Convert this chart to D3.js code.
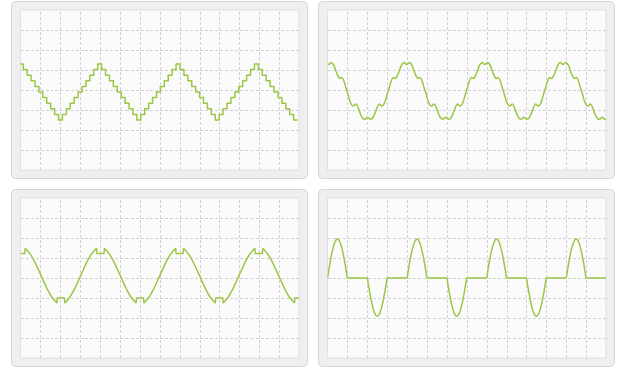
<!DOCTYPE html>
<html>
<head>
<meta charset="utf-8">
<script src="https://cdn.jsdelivr.net/npm/d3@7"></script>
<style>
    body { margin: 0; background: #fff; }
    svg { display: block; }
    .frame { fill: #efefef; stroke: #d6d6d6; }
    .screen { fill: #fbfbfb; stroke: #e0e0e0; }
    .grid line { stroke: #d2d2d2; stroke-dasharray: 3,2; shape-rendering: crispEdges; }
    .grid .domain { display: none; }
    .wave { fill: none; stroke: #9cc646; stroke-width: 1.5; stroke-linejoin: round; }
</style>
</head>
<body>
<svg width="620" height="367"></svg>
<script>
// grid divisions (x in time units, y in volts)
var xTicks = [20, 40, 60, 80, 100, 120, 140, 160, 180, 200, 220, 240, 260];
var yTicks = [-3, -2, -1, 0, 1, 2, 3];

// top left: quantised triangle, one level per sample
var stairStart = -1.2, stairStep = 3.94;
var stairLevels = [
    1.30, 1.02, 0.74, 0.46, 0.18, -0.10, -0.38, -0.66, -0.94, -1.22, -1.50, -1.22, -0.94, -0.66, -0.38, -0.10, 0.18, 0.46, 0.74, 1.02,
    1.30, 1.02, 0.74, 0.46, 0.18, -0.10, -0.38, -0.66, -0.94, -1.22, -1.50, -1.22, -0.94, -0.66, -0.38, -0.10, 0.18, 0.46, 0.74, 1.02,
    1.30, 1.02, 0.74, 0.46, 0.18, -0.10, -0.38, -0.66, -0.94, -1.22, -1.50, -1.22, -0.94, -0.66, -0.38, -0.10, 0.18, 0.46, 0.74, 1.02,
    1.30, 1.02, 0.74, 0.46, 0.18, -0.10, -0.38, -0.66, -0.94, -1.22, -1.50
];

// top right: filtered wave with ripple
var rippleWave = [
    [0, 1.32], [1, 1.28], [3.8, 1.38], [6.5, 1.22], [9, 0.88], [11, 0.65], [12.5, 0.58], [14.5, 0.63], [16.5, 0.45], [18.5, 0.12],
    [20.5, -0.2], [22.5, -0.55], [24, -0.72], [26, -0.8], [28.5, -0.7], [30.5, -0.85], [32.5, -1.12], [34.5, -1.35], [37.5, -1.46], [40.3, -1.36],
    [43.1, -1.46], [46.1, -1.35], [48.1, -1.12], [50.1, -0.85], [52.1, -0.7], [54.6, -0.8], [56.6, -0.72], [58.1, -0.55], [60.1, -0.2], [62.1, 0.12],
    [64.1, 0.45], [66.1, 0.63], [68.1, 0.58], [69.6, 0.65], [71.6, 0.88], [74.1, 1.22], [76.8, 1.38], [79.6, 1.28],
    [82.4, 1.38], [85.1, 1.22], [87.6, 0.88], [89.6, 0.65], [91.1, 0.58], [93.1, 0.63], [95.1, 0.45], [97.1, 0.12], [99.1, -0.2], [101.1, -0.55],
    [102.6, -0.72], [104.6, -0.8], [107.1, -0.7], [109.1, -0.85], [111.1, -1.12], [113.1, -1.35], [116.1, -1.46], [118.9, -1.36], [121.7, -1.46], [124.7, -1.35],
    [126.7, -1.12], [128.7, -0.85], [130.7, -0.7], [133.2, -0.8], [135.2, -0.72], [136.7, -0.55], [138.7, -0.2], [140.7, 0.12], [142.7, 0.45], [144.7, 0.63],
    [146.7, 0.58], [148.2, 0.65], [150.2, 0.88], [152.7, 1.22], [155.4, 1.38], [158.2, 1.28],
    [161, 1.38], [163.7, 1.22], [166.2, 0.88], [168.2, 0.65], [169.7, 0.58], [171.7, 0.63], [173.7, 0.45], [175.7, 0.12], [177.7, -0.2], [179.7, -0.55],
    [181.2, -0.72], [183.2, -0.8], [185.7, -0.7], [187.7, -0.85], [189.7, -1.12], [191.7, -1.35], [194.7, -1.46], [197.5, -1.36], [200.3, -1.46], [203.3, -1.35],
    [205.3, -1.12], [207.3, -0.85], [209.3, -0.7], [211.8, -0.8], [213.8, -0.72], [215.3, -0.55], [217.3, -0.2], [219.3, 0.12], [221.3, 0.45], [223.3, 0.63],
    [225.3, 0.58], [226.8, 0.65], [228.8, 0.88], [231.3, 1.22], [234, 1.38], [236.8, 1.28],
    [239.6, 1.38], [242.3, 1.22], [244.8, 0.88], [246.8, 0.65], [248.3, 0.58], [250.3, 0.63], [252.3, 0.45], [254.3, 0.12], [256.3, -0.2], [258.3, -0.55],
    [259.8, -0.72], [261.8, -0.8], [264.3, -0.7], [266.3, -0.85], [268.3, -1.12], [270.3, -1.35], [273.3, -1.46], [276.1, -1.36], [278.9, -1.46], [280, -1.44]
];

// bottom left: sine with flattened notches at the crests
var notchWave = [
    [0, 1.22], [4.5, 1.22], [4.6, 1.48], [6.8, 1.38], [10.8, 1.12], [14.8, 0.76], [18.8, 0.33], [22.8, -0.11], [26.8, -0.54], [30.8, -0.9], [34.8, -1.15],
    [36.8, -1.24], [36.9, -1.0], [44.3, -1.0], [44.4, -1.24], [46.6, -1.14], [50.6, -0.88], [54.6, -0.52], [58.6, -0.09], [62.6, 0.35], [66.6, 0.78], [70.6, 1.14], [74.6, 1.39],
    [76.6, 1.48], [76.7, 1.22], [84.1, 1.22], [84.2, 1.48], [86.4, 1.38], [90.4, 1.12], [94.4, 0.76], [98.4, 0.33], [102.4, -0.11], [106.4, -0.54], [110.4, -0.9], [114.4, -1.15],
    [116.4, -1.24], [116.5, -1.0], [123.9, -1.0], [124, -1.24], [126.2, -1.14], [130.2, -0.88], [134.2, -0.52], [138.2, -0.09], [142.2, 0.35], [146.2, 0.78], [150.2, 1.14], [154.2, 1.39],
    [156.2, 1.48], [156.3, 1.22], [163.7, 1.22], [163.8, 1.48], [166, 1.38], [170, 1.12], [174, 0.76], [178, 0.33], [182, -0.11], [186, -0.54], [190, -0.9], [194, -1.15],
    [196, -1.24], [196.1, -1.0], [203.5, -1.0], [203.6, -1.24], [205.8, -1.14], [209.8, -0.88], [213.8, -0.52], [217.8, -0.09], [221.8, 0.35], [225.8, 0.78], [229.8, 1.14], [233.8, 1.39],
    [235.8, 1.48], [235.9, 1.22], [243.3, 1.22], [243.4, 1.48], [245.6, 1.38], [249.6, 1.12], [253.6, 0.76], [257.6, 0.33], [261.6, -0.11], [265.6, -0.54], [269.6, -0.9], [273.6, -1.15],
    [275.6, -1.24], [275.7, -1.0], [280, -1.0]
];

// bottom right: alternating half-wave pulses with dead time
var pulseWave = [
    [0, 0], [1, 0.3], [2.5, 0.75], [5, 1.38], [7.5, 1.8], [10, 1.95], [12.5, 1.8], [15, 1.38], [17.5, 0.75], [19, 0.3], [20, 0],
    [40, 0], [41, -0.3], [42.5, -0.73], [45, -1.36], [47.5, -1.77], [50, -1.92], [52.5, -1.77], [55, -1.36], [57.5, -0.73], [59, -0.3], [60, 0],
    [80, 0], [81, 0.3], [82.5, 0.75], [85, 1.38], [87.5, 1.8], [90, 1.95], [92.5, 1.8], [95, 1.38], [97.5, 0.75], [99, 0.3], [100, 0],
    [120, 0], [121, -0.3], [122.5, -0.73], [125, -1.36], [127.5, -1.77], [130, -1.92], [132.5, -1.77], [135, -1.36], [137.5, -0.73], [139, -0.3], [140, 0],
    [160, 0], [161, 0.3], [162.5, 0.75], [165, 1.38], [167.5, 1.8], [170, 1.95], [172.5, 1.8], [175, 1.38], [177.5, 0.75], [179, 0.3], [180, 0],
    [200, 0], [201, -0.3], [202.5, -0.73], [205, -1.36], [207.5, -1.77], [210, -1.92], [212.5, -1.77], [215, -1.36], [217.5, -0.73], [219, -0.3], [220, 0],
    [240, 0], [241, 0.3], [242.5, 0.75], [245, 1.38], [247.5, 1.8], [250, 1.95], [252.5, 1.8], [255, 1.38], [257.5, 0.75], [259, 0.3], [260, 0],
    [280, 0]
];

var svg = d3.select("svg");
var frameW = 296, frameH = 177;
var padL = 9, padT = 8.5;
var plotW = 278.5, plotH = 160;

var x = d3.scaleLinear().domain([0, 280]).range([0, plotW]);
var y = d3.scaleLinear().domain([-4, 4]).range([plotH, 0]);

// stair samples -> points, last sample held until the next edge
var stairPoints = stairLevels.map(function(v, i) { return [stairStart + i * stairStep, v]; });
stairPoints.push([stairStart + stairLevels.length * stairStep, stairLevels[stairLevels.length - 1]]);

var panels = [
    {left: 11.5, top: 1.5, points: stairPoints, curve: d3.curveStepAfter},
    {left: 318.5, top: 1.5, points: rippleWave, curve: d3.curveMonotoneX},
    {left: 11.5, top: 189.5, points: notchWave, curve: d3.curveMonotoneX},
    {left: 318.5, top: 189.5, points: pulseWave, curve: d3.curveMonotoneX}
];

panels.forEach(function(p, i) {
    var g = svg.append("g").attr("transform", "translate(" + p.left + "," + p.top + ")");

    g.append("rect")
        .attr("class", "frame")
        .attr("width", frameW)
        .attr("height", frameH)
        .attr("rx", 4);

    var plot = g.append("g").attr("transform", "translate(" + padL + "," + padT + ")");

    plot.append("rect")
        .attr("class", "screen")
        .attr("width", plotW)
        .attr("height", plotH);

    plot.append("clipPath")
        .attr("id", "clip" + i)
      .append("rect")
        .attr("width", plotW)
        .attr("height", plotH);

    // dashed grid from the axes
    plot.append("g")
        .attr("class", "grid")
        .attr("transform", "translate(0," + plotH + ")")
        .call(d3.axisBottom(x).tickValues(xTicks).tickSize(-plotH).tickFormat(""));

    plot.append("g")
        .attr("class", "grid")
        .call(d3.axisLeft(y).tickValues(yTicks).tickSize(-plotW).tickFormat(""));

    var line = d3.line()
        .x(function(d) { return x(d[0]); })
        .y(function(d) { return y(d[1]); })
        .curve(p.curve);

    plot.append("path")
        .datum(p.points)
        .attr("class", "wave")
        .attr("clip-path", "url(#clip" + i + ")")
        .attr("d", line);
});
</script>
</body>
</html>
